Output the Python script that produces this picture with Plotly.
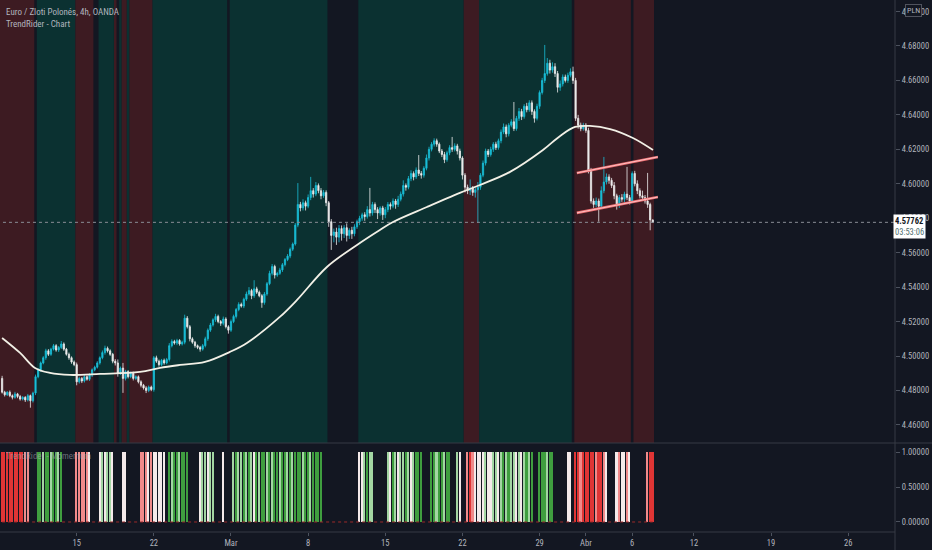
import plotly.graph_objects as go

# ---------------- data ----------------
first_open = 4.4870
closes = [
    4.4790, 4.4775, 4.4790, 4.4770, 4.4760, 4.4780, 4.4765, 4.4750, 4.4760, 4.4745,
    4.4770, 4.4740, 4.4785, 4.4880, 4.4920, 4.4960, 4.4990, 4.5030, 4.5010, 4.5040,
    4.5060, 4.5035, 4.5050, 4.5070, 4.5040, 4.5010, 4.4990, 4.4965, 4.4950, 4.4850,
    4.4870, 4.4855, 4.4880, 4.4865, 4.4890, 4.4920, 4.4935, 4.4960, 4.4990, 4.5020,
    4.5045, 4.5030, 4.5010, 4.4970, 4.4960, 4.4900, 4.4930, 4.4870, 4.4910, 4.4880,
    4.4900, 4.4870, 4.4880, 4.4850, 4.4830, 4.4815, 4.4800, 4.4820, 4.4805, 4.4990,
    4.4970, 4.4950, 4.4975, 4.4960, 4.4980, 4.5060, 4.5085, 4.5075, 4.5090, 4.5070,
    4.5080, 4.5220, 4.5170, 4.5100, 4.5080, 4.5060, 4.5050, 4.5040, 4.5060, 4.5100,
    4.5150, 4.5180, 4.5210, 4.5230, 4.5200, 4.5190, 4.5215, 4.5170, 4.5150, 4.5200,
    4.5230, 4.5270, 4.5300, 4.5290, 4.5330, 4.5360, 4.5380, 4.5350, 4.5390, 4.5370,
    4.5350, 4.5310, 4.5360, 4.5420, 4.5480, 4.5520, 4.5470, 4.5480, 4.5500, 4.5530,
    4.5560, 4.5580, 4.5620, 4.5650, 4.5760, 4.5880, 4.5860, 4.5890, 4.5870, 4.5920,
    4.5960, 4.5940, 4.5990, 4.5960, 4.5930, 4.5950, 4.5890, 4.5780, 4.5700, 4.5720,
    4.5690, 4.5740, 4.5710, 4.5745, 4.5700, 4.5730, 4.5710, 4.5750, 4.5780, 4.5800,
    4.5820, 4.5810, 4.5850, 4.5830, 4.5880, 4.5850, 4.5830, 4.5860, 4.5820, 4.5850,
    4.5880, 4.5870, 4.5900, 4.5880, 4.5910, 4.5940, 4.5990, 4.5980, 4.6030, 4.6060,
    4.6040, 4.6080, 4.6060, 4.6050, 4.6090, 4.6150, 4.6200, 4.6230, 4.6250, 4.6230,
    4.6190, 4.6170, 4.6140, 4.6180, 4.6210, 4.6200, 4.6220, 4.6190, 4.6150, 4.6050,
    4.5980, 4.5960, 4.5975, 4.5950, 4.5965, 4.5980, 4.6050, 4.6120, 4.6190, 4.6170,
    4.6200, 4.6230, 4.6210, 4.6250, 4.6300, 4.6330, 4.6290, 4.6340, 4.6360, 4.6320,
    4.6380, 4.6420, 4.6390, 4.6450, 4.6430, 4.6470, 4.6420, 4.6380, 4.6450, 4.6530,
    4.6600, 4.6640, 4.6700, 4.6660, 4.6680, 4.6640, 4.6560, 4.6580, 4.6620, 4.6600,
    4.6630, 4.6650, 4.6600, 4.6380, 4.6340, 4.6320, 4.6340, 4.6310, 4.6080, 4.5900,
    4.5880, 4.5900, 4.5870, 4.5960, 4.6010, 4.6040, 4.6020, 4.5990, 4.5930, 4.5880,
    4.5920, 4.5910, 4.5940, 4.5920, 4.5900, 4.6060, 4.6000, 4.5960, 4.5930, 4.5920,
    4.5900, 4.5880, 4.5790, 4.5776,
]
# upper / lower wick lengths in pips (0.0001)
wick_hi = [
    15, 8, 6, 10, 7, 12, 6, 9, 8, 7,
    10, 6, 8, 12, 10, 8, 9, 12, 10, 8,
    10, 9, 8, 17, 9, 7, 10, 8, 9, 12,
    10, 8, 9, 7, 10, 8, 9, 10, 8, 12,
    15, 10, 9, 8, 12, 20, 9, 30, 10, 8,
    10, 9, 8, 7, 9, 8, 10, 9, 8, 10,
    12, 9, 8, 10, 9, 15, 12, 9, 10, 8,
    9, 20, 12, 10, 9, 8, 7, 9, 10, 12,
    10, 12, 9, 15, 10, 9, 14, 10, 9, 12,
    10, 9, 12, 10, 9, 14, 20, 10, 50, 12,
    10, 9, 12, 10, 15, 14, 10, 9, 12, 10,
    9, 12, 10, 9, 12, 124, 15, 20, 12, 18,
    80, 15, 20, 12, 15, 14, 12, 10, 15, 20,
    25, 20, 18, 15, 25, 12, 20, 15, 12, 14,
    12, 15, 20, 126, 15, 12, 14, 10, 12, 15,
    14, 12, 15, 12, 20, 15, 30, 12, 15, 18,
    12, 15, 87, 14, 12, 20, 15, 12, 14, 12,
    10, 12, 15, 12, 14, 62, 15, 12, 14, 10,
    12, 15, 50, 12, 14, 30, 12, 15, 14, 12,
    15, 12, 14, 12, 15, 20, 14, 12, 15, 115,
    14, 20, 15, 12, 20, 15, 14, 12, 15, 12,
    15, 166, 30, 20, 25, 20, 15, 20, 15, 14,
    15, 20, 30, 15, 20, 15, 14, 12, 15, 12,
    15, 20, 14, 25, 146, 20, 15, 14, 20, 12,
    15, 20, 14, 158, 15, 12, 15, 20, 14, 30,
    15, 163, 10, 3,
]
wick_lo = [
    8, 10, 7, 9, 12, 8, 10, 9, 8, 12,
    9, 40, 10, 12, 9, 10, 8, 12, 10, 9,
    8, 10, 12, 9, 10, 8, 12, 10, 9, 20,
    10, 12, 9, 8, 10, 12, 9, 8, 10, 9,
    12, 10, 9, 12, 15, 20, 10, 84, 12, 10,
    9, 12, 10, 9, 12, 10, 15, 10, 9, 12,
    10, 12, 9, 10, 8, 12, 10, 9, 12, 10,
    9, 12, 10, 15, 9, 12, 10, 15, 9, 10,
    12, 10, 9, 12, 10, 15, 12, 10, 20, 10,
    9, 12, 10, 9, 12, 10, 9, 20, 12, 10,
    9, 30, 12, 10, 9, 12, 20, 10, 9, 12,
    10, 9, 12, 10, 9, 12, 20, 15, 25, 12,
    15, 20, 12, 15, 20, 12, 20, 30, 84, 40,
    45, 30, 40, 25, 35, 20, 30, 15, 12, 20,
    15, 25, 12, 20, 15, 20, 35, 15, 30, 20,
    15, 20, 12, 25, 15, 12, 14, 20, 12, 15,
    20, 12, 15, 20, 14, 12, 15, 12, 14, 15,
    12, 15, 20, 12, 14, 15, 12, 20, 15, 25,
    30, 20, 25, 20, 30, 192, 15, 12, 14, 15,
    12, 15, 14, 12, 15, 12, 20, 15, 12, 14,
    12, 15, 20, 12, 15, 12, 20, 25, 12, 15,
    12, 15, 12, 20, 15, 20, 30, 20, 15, 12,
    14, 12, 20, 15, 20, 15, 12, 14, 20, 15,
    20, 15, 90, 12, 15, 14, 20, 15, 20, 30,
    20, 15, 20, 15, 20, 12, 15, 20, 15, 12,
    15, 20, 60, 3,
]

# background state runs: r = bearish, t = bullish, n = none
bg_runs = [("r", 13), ("n", 1), ("t", 15), ("r", 7), ("n", 2), ("t", 6), ("r", 1),
           ("n", 1), ("t", 1), ("r", 2), ("t", 1), ("r", 9), ("t", 29), ("n", 1),
           ("t", 38), ("n", 12), ("t", 41), ("r", 6), ("t", 36), ("n", 1), ("r", 22),
           ("n", 1), ("r", 8)]

# momentum state per bar: 0 none, R red, r light red, w white, g light green, G green
momentum_segments = [
    "RRRRRRRRRrr", "000", "GGgGGgGGgG", "00000", "rrrrrw", "000", "wgwggw", "000",
    "ww", "00000", "rrr", "wrwwwww", "0", "GgGGgGGG", "0000", "wggwgg", "000", "w",
    "000", "gGggGgGgwGgGGgGgGGgGGgGgGGGgGGgGGGG", "00000000000000", "wwgGgg",
    "00000", "gwGgwggGgwgGGG", "000", "GGgGGgGG", "00", "gw", "00", "rRrwww",
    "wgwwggwgGgGggwgwgGgG", "00", "GGGgGG", "00000", "ww", "0", "RRrRRRRRrRRrw",
    "000", "wrwwrw", "000000", "rRR",
]

# moving average read at anchor bars
ma_idx = [0, 7.0, 12.8, 18.6, 26.4, 38.1, 53.6, 61.4, 69.2, 78.9, 88.6, 95.2, 108.0,
          114.7, 126.3, 138.0, 146.9, 152.0, 165.2, 178.0, 185.8, 197.5, 210.3, 217.0,
          222.8, 228.6, 236.4, 245.3, 253.1]
ma_val = [4.5105, 4.5018, 4.4931, 4.4902, 4.4890, 4.4896, 4.4908, 4.4931, 4.4948,
          4.4966, 4.5024, 4.5076, 4.5227, 4.5326, 4.5517, 4.5645, 4.5732, 4.5778,
          4.5865, 4.5947, 4.5993, 4.6069, 4.6196, 4.6278, 4.6330, 4.6336, 4.6318,
          4.6266, 4.6196]

chan_idx = [223.5, 255.0]
chan_upper = [4.6063, 4.6156]
chan_lower = [4.5831, 4.5923]

last_price = 4.57762
countdown = "03:53:06"

x_tick_idx = [29, 59, 89, 119, 149, 179, 209, 227, 245, 269, 299, 329]
x_tick_text = ["15", "22", "Mar", "8", "15", "22", "29", "Abr", "6", "12", "19", "26"]
price_ticks = [4.46, 4.48, 4.50, 4.52, 4.54, 4.56, 4.58, 4.60, 4.62, 4.64, 4.66, 4.68, 4.70]
mom_ticks = [0.0, 0.5, 1.0]

# ---------------- styling ----------------
BG = "#131722"
TXT = "#b2b5be"
AX = "#363a45"
UP = "#19bfd8"
DN = "#ececec"
BG_COL = {"r": "#3d1b22", "t": "#0b3131"}
MOM_COL = {"R": "#e03535", "r": "#f08a8a", "w": "#f4eaea", "g": "#a3d6a3", "G": "#3f9e3f"}
FONT = "Liberation Sans Narrow, Roboto Condensed, Roboto, sans-serif"

n = len(closes)
idx = list(range(n))
opens = [first_open] + closes[:-1]
highs = [max(o, c) + h * 1e-4 for o, c, h in zip(opens, closes, wick_hi)]
lows = [min(o, c) - l * 1e-4 for o, c, l in zip(opens, closes, wick_lo)]
momentum = "".join(momentum_segments)

fig = go.Figure()

# background shapes
shapes = []
pos = 0
for state, cnt in bg_runs:
    if state in BG_COL:
        x0 = pos - 0.5 if pos > 0 else -1.5
        shapes.append(dict(type="rect", xref="x", yref="y domain", x0=x0, x1=pos + cnt - 0.5,
                           y0=0, y1=1, fillcolor=BG_COL[state], line=dict(width=0), layer="below"))
    pos += cnt

# price line (dotted)
fig.add_trace(go.Scatter(x=[-2, 400], y=[last_price, last_price], mode="lines",
                         line=dict(color="#8a8d96", width=1, dash="dot"),
                         hoverinfo="skip", showlegend=False, xaxis="x", yaxis="y"))

fig.add_trace(go.Candlestick(
    x=idx, open=opens, high=highs, low=lows, close=closes,
    increasing=dict(line=dict(color=UP, width=0.8), fillcolor=UP),
    decreasing=dict(line=dict(color=DN, width=0.8), fillcolor=DN),
    whiskerwidth=0, showlegend=False, xaxis="x", yaxis="y"))

fig.add_trace(go.Scatter(x=ma_idx, y=ma_val, mode="lines",
                         line=dict(color="#f2f0e6", width=1.8, shape="spline", smoothing=1.0),
                         hoverinfo="skip", showlegend=False, xaxis="x", yaxis="y"))

for vals in (chan_upper, chan_lower):
    fig.add_trace(go.Scatter(x=chan_idx, y=vals, mode="lines",
                             line=dict(color="#ef6f73", width=2.6),
                             hoverinfo="skip", showlegend=False, xaxis="x", yaxis="y"))
    fig.add_trace(go.Scatter(x=chan_idx, y=vals, mode="lines",
                             line=dict(color="#ffd6d6", width=0.8),
                             hoverinfo="skip", showlegend=False, xaxis="x", yaxis="y"))

# momentum panel
mx = [i for i, s in enumerate(momentum) if s != "0"]
my = [1.0 for i in mx]
mc = [MOM_COL[momentum[i]] for i in mx]
fig.add_trace(go.Scatter(x=[0, n - 1], y=[0, 0], mode="lines",
                         line=dict(color="#9c2a2a", width=1, dash="dot"),
                         hoverinfo="skip", showlegend=False, xaxis="x", yaxis="y2"))
fig.add_trace(go.Bar(x=mx, y=my, marker=dict(color=mc, line=dict(width=0)), width=0.6,
                     showlegend=False, xaxis="x", yaxis="y2"))

PANEL_SPLIT = 89 / 532

shapes += [
    dict(type="line", xref="paper", yref="paper", x0=0, x1=932 / 895, y0=PANEL_SPLIT, y1=PANEL_SPLIT,
         line=dict(color=AX, width=1)),
    dict(type="line", xref="paper", yref="paper", x0=1, x1=1, y0=-18 / 532, y1=1,
         line=dict(color=AX, width=1)),
    dict(type="line", xref="paper", yref="paper", x0=0, x1=1, y0=0, y1=0,
         line=dict(color=AX, width=1)),
]

annotations = [
    dict(xref="paper", yref="paper", x=0.004, y=1 - 5 / 532, xanchor="left", yanchor="top",
         text="Euro / Zloti Polonés, 4h, OANDA", showarrow=False,
         font=dict(family=FONT, size=9, color=TXT)),
    dict(xref="paper", yref="paper", x=0.004, y=1 - 17 / 532, xanchor="left", yanchor="top",
         text="TrendRider - Chart", showarrow=False,
         font=dict(family=FONT, size=9, color=TXT)),
    dict(xref="paper", yref="paper", x=0.004, y=(532 - 449) / 532, xanchor="left", yanchor="top",
         text="TrendRider - Momentum", showarrow=False,
         font=dict(family=FONT, size=9, color="rgba(178,181,190,0.55)")),
    dict(xref="paper", yref="y", x=1, y=last_price, xanchor="left", yanchor="middle",
         xshift=-2, yshift=-4,
         text="<b>%.5f</b><br><span style='color:#4f6f6f'>%s</span>" % (last_price, countdown),
         showarrow=False, bgcolor="#ffffff", borderpad=1, align="left",
         font=dict(family=FONT, size=8.5, color="#131722")),
    dict(xref="paper", yref="paper", x=913 / 895, y=1 - 11 / 532, xanchor="center", yanchor="middle",
         text="PLN", showarrow=False, bgcolor=BG, bordercolor="#50535e", borderwidth=1, borderpad=1,
         font=dict(family=FONT, size=8, color=TXT)),
]

fig.update_layout(
    width=932, height=550,
    margin=dict(l=0, r=37, t=0, b=18),
    paper_bgcolor=BG, plot_bgcolor=BG,
    showlegend=False, bargap=0,
    shapes=shapes, annotations=annotations,
    font=dict(family=FONT, size=9, color=TXT),
    xaxis=dict(range=[-0.82, 347.2], tickvals=x_tick_idx, ticktext=x_tick_text,
               ticks="outside", ticklen=3, tickcolor="#4c525e", showgrid=False,
               zeroline=False, showline=False, anchor="y2",
               tickfont=dict(family=FONT, size=8.5, color=TXT),
               rangeslider=dict(visible=False), fixedrange=True),
    yaxis=dict(domain=[PANEL_SPLIT, 1], side="right", range=[4.4495, 4.7067],
               tickvals=price_ticks, ticktext=["%.5f" % v for v in price_ticks],
               ticks="outside", ticklen=4, tickcolor="#4c525e", showgrid=False,
               zeroline=False, showline=False, anchor="x",
               tickfont=dict(family=FONT, size=8.5, color=TXT)),
    yaxis2=dict(domain=[0, PANEL_SPLIT], side="right", range=[-0.143, 1.129],
                tickvals=mom_ticks, ticktext=["%.5f" % v for v in mom_ticks],
                ticks="outside", ticklen=4, tickcolor="#4c525e", showgrid=False,
                zeroline=False, showline=False, anchor="x",
                tickfont=dict(family=FONT, size=8.5, color=TXT)),
)

fig.write_html("out.html", config={"displayModeBar": False},
               post_script="document.body.style.margin='0';document.body.style.padding='0';"
                           "document.body.style.background='#131722';"
                           "document.body.style.overflow='hidden';")
